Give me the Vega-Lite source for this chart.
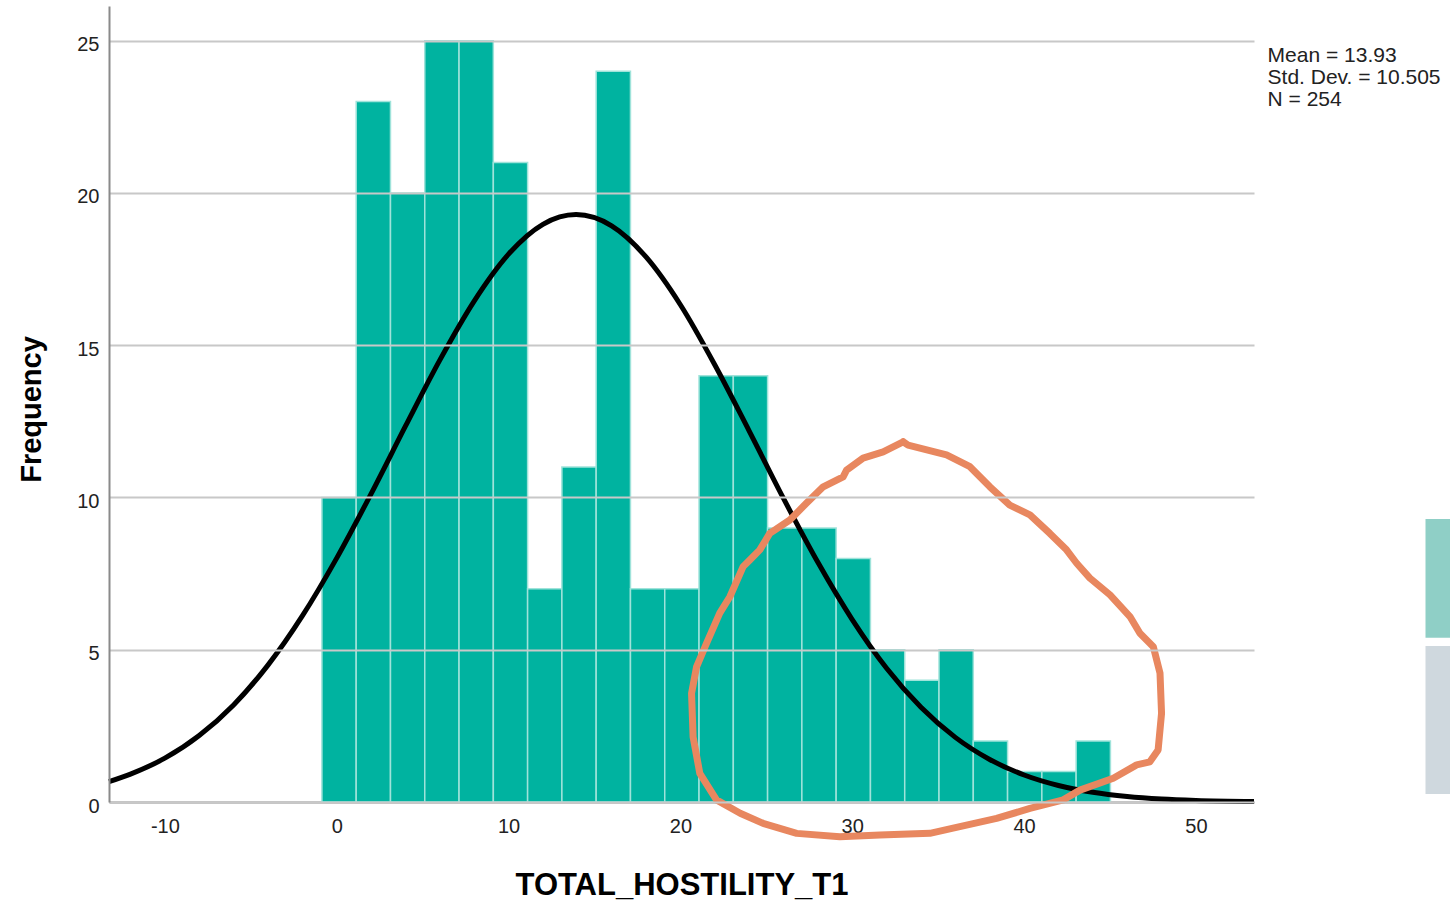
{
  "$schema": "https://vega.github.io/schema/vega-lite/v6.json",
  "autosize": {"type": "none"},
  "padding": {"left": 109, "top": 6, "right": 196, "bottom": 101},
  "width": 1145,
  "height": 796,
  "background": "white",
  "config": {
    "view": {"stroke": null},
    "font": "Liberation Sans"
  },
  "datasets": {
    "bins": [
      {"bin_start": -0.86, "bin_end": 1.135, "count": 10},
      {"bin_start": 1.135, "bin_end": 3.13, "count": 23},
      {"bin_start": 3.13, "bin_end": 5.125, "count": 20},
      {"bin_start": 5.125, "bin_end": 7.12, "count": 25},
      {"bin_start": 7.12, "bin_end": 9.115, "count": 25},
      {"bin_start": 9.115, "bin_end": 11.11, "count": 21},
      {"bin_start": 11.11, "bin_end": 13.105, "count": 7},
      {"bin_start": 13.105, "bin_end": 15.1, "count": 11},
      {"bin_start": 15.1, "bin_end": 17.095, "count": 24},
      {"bin_start": 17.095, "bin_end": 19.09, "count": 7},
      {"bin_start": 19.09, "bin_end": 21.085, "count": 7},
      {"bin_start": 21.085, "bin_end": 23.08, "count": 14},
      {"bin_start": 23.08, "bin_end": 25.075, "count": 14},
      {"bin_start": 25.075, "bin_end": 27.07, "count": 9},
      {"bin_start": 27.07, "bin_end": 29.065, "count": 9},
      {"bin_start": 29.065, "bin_end": 31.06, "count": 8},
      {"bin_start": 31.06, "bin_end": 33.055, "count": 5},
      {"bin_start": 33.055, "bin_end": 35.05, "count": 4},
      {"bin_start": 35.05, "bin_end": 37.045, "count": 5},
      {"bin_start": 37.045, "bin_end": 39.04, "count": 2},
      {"bin_start": 39.04, "bin_end": 41.035, "count": 1},
      {"bin_start": 41.035, "bin_end": 43.03, "count": 1},
      {"bin_start": 43.03, "bin_end": 45.025, "count": 2}
    ],
    "curve": [
      {"value": -13.25, "frequency": 0.67},
      {"value": -12, "frequency": 0.917},
      {"value": -10, "frequency": 1.44},
      {"value": -8, "frequency": 2.184},
      {"value": -6, "frequency": 3.189},
      {"value": -4, "frequency": 4.494},
      {"value": -2, "frequency": 6.109},
      {"value": 0, "frequency": 8.008},
      {"value": 2, "frequency": 10.12},
      {"value": 4, "frequency": 12.34},
      {"value": 6, "frequency": 14.51},
      {"value": 8, "frequency": 16.45},
      {"value": 10, "frequency": 17.99},
      {"value": 12, "frequency": 18.97},
      {"value": 13.93, "frequency": 19.29},
      {"value": 16, "frequency": 18.92},
      {"value": 18, "frequency": 17.9},
      {"value": 20, "frequency": 16.33},
      {"value": 22, "frequency": 14.36},
      {"value": 24, "frequency": 12.19},
      {"value": 26, "frequency": 9.97},
      {"value": 28, "frequency": 7.87},
      {"value": 30, "frequency": 5.99},
      {"value": 32, "frequency": 4.39},
      {"value": 34, "frequency": 3.11},
      {"value": 36, "frequency": 2.122},
      {"value": 38, "frequency": 1.397},
      {"value": 40, "frequency": 0.887},
      {"value": 42, "frequency": 0.543},
      {"value": 44, "frequency": 0.321},
      {"value": 46, "frequency": 0.183},
      {"value": 48, "frequency": 0.1},
      {"value": 50, "frequency": 0.053},
      {"value": 53.38, "frequency": 0.017}
    ],
    "circle": [
      {"i": 1, "x": 32.96, "y": 11.83},
      {"i": 2, "x": 33.25, "y": 11.72},
      {"i": 3, "x": 35.49, "y": 11.4},
      {"i": 4, "x": 36.85, "y": 11.01},
      {"i": 5, "x": 38.01, "y": 10.35},
      {"i": 6, "x": 39.17, "y": 9.75},
      {"i": 7, "x": 40.34, "y": 9.43},
      {"i": 8, "x": 41.5, "y": 8.82},
      {"i": 9, "x": 42.47, "y": 8.28},
      {"i": 10, "x": 43.06, "y": 7.84},
      {"i": 11, "x": 43.83, "y": 7.35},
      {"i": 12, "x": 45.0, "y": 6.8},
      {"i": 13, "x": 46.16, "y": 6.09},
      {"i": 14, "x": 46.74, "y": 5.54},
      {"i": 15, "x": 47.52, "y": 5.1},
      {"i": 16, "x": 47.91, "y": 4.23},
      {"i": 17, "x": 48.0, "y": 2.91},
      {"i": 18, "x": 47.8, "y": 1.71},
      {"i": 19, "x": 47.32, "y": 1.32},
      {"i": 20, "x": 46.55, "y": 1.22},
      {"i": 21, "x": 45.19, "y": 0.78},
      {"i": 22, "x": 43.25, "y": 0.39},
      {"i": 23, "x": 42.28, "y": 0.07},
      {"i": 24, "x": 40.34, "y": -0.21},
      {"i": 25, "x": 38.4, "y": -0.54},
      {"i": 26, "x": 35.87, "y": -0.86},
      {"i": 27, "x": 34.52, "y": -1.03},
      {"i": 28, "x": 31.61, "y": -1.08},
      {"i": 29, "x": 29.28, "y": -1.14},
      {"i": 30, "x": 26.77, "y": -1.03},
      {"i": 31, "x": 24.81, "y": -0.7},
      {"i": 32, "x": 23.48, "y": -0.37},
      {"i": 33, "x": 22.1, "y": 0.07},
      {"i": 34, "x": 21.13, "y": 0.94},
      {"i": 35, "x": 20.74, "y": 2.14},
      {"i": 36, "x": 20.65, "y": 3.57},
      {"i": 37, "x": 20.94, "y": 4.44},
      {"i": 38, "x": 21.52, "y": 5.21},
      {"i": 39, "x": 22.29, "y": 6.2},
      {"i": 40, "x": 22.88, "y": 6.74},
      {"i": 41, "x": 23.65, "y": 7.73},
      {"i": 42, "x": 24.04, "y": 7.95},
      {"i": 43, "x": 24.62, "y": 8.28},
      {"i": 44, "x": 25.2, "y": 8.82},
      {"i": 45, "x": 26.37, "y": 9.26},
      {"i": 46, "x": 27.33, "y": 9.81},
      {"i": 47, "x": 28.31, "y": 10.35},
      {"i": 48, "x": 29.47, "y": 10.68},
      {"i": 49, "x": 29.67, "y": 10.9},
      {"i": 50, "x": 30.63, "y": 11.29},
      {"i": 51, "x": 31.8, "y": 11.5},
      {"i": 52, "x": 32.96, "y": 11.83}
    ],
    "stats": [
      {"label": "Mean = 13.93", "x": 54.17, "y": 24.29},
      {"label": "Std. Dev. = 10.505", "x": 54.17, "y": 23.58},
      {"label": "N = 254", "x": 54.17, "y": 22.86}
    ],
    "side": [
      {"x1": 63.36, "x2": 65.5, "y1": 9.29, "y2": 5.39, "kind": "teal"},
      {"x1": 63.36, "x2": 65.5, "y1": 5.12, "y2": 0.26, "kind": "grey"}
    ]
  },
  "layer": [
    {
      "data": {"name": "bins"},
      "mark": {"type": "rect", "color": "#00b3a0", "stroke": "#9fe3da", "strokeWidth": 1.5},
      "encoding": {
        "x": {
          "field": "bin_start", "type": "quantitative",
          "scale": {"domain": [-13.25, 53.38], "nice": false, "zero": false},
          "axis": {
            "title": "TOTAL_HOSTILITY_T1",
            "values": [-10, 0, 10, 20, 30, 40, 50],
            "labelExpr": "datum.value + ''",
            "grid": false, "ticks": false, "tickSize": 0,
            "domainColor": "#8a8a8a", "domainWidth": 2,
            "labelFontSize": 20, "labelColor": "#222222", "labelPadding": 14,
            "labelFlush": false,
            "titleFontSize": 31, "titleFontWeight": "bold", "titleColor": "#000000",
            "titlePadding": 34
          }
        },
        "x2": {"field": "bin_end"},
        "y": {
          "field": "count", "type": "quantitative",
          "scale": {"domain": [0, 26.14], "nice": false},
          "axis": {
            "title": "Frequency",
            "values": [0, 5, 10, 15, 20, 25],
            "grid": true, "gridColor": "#c8c8c8", "gridWidth": 2,
            "ticks": false, "tickSize": 0,
            "domainColor": "#8a8a8a", "domainWidth": 2,
            "labelFontSize": 20, "labelColor": "#222222", "labelPadding": 10,
            "labelOffset": 4,
            "titleFontSize": 29, "titleFontWeight": "bold", "titleColor": "#000000",
            "titlePadding": 30,
            "titleY": 403,
            "zindex": 1
          }
        },
        "y2": {"datum": 0}
      }
    },
    {
      "data": {"name": "curve"},
      "mark": {"type": "line", "color": "#000000", "strokeWidth": 5, "interpolate": "monotone"},
      "encoding": {
        "x": {"field": "value", "type": "quantitative"},
        "y": {"field": "frequency", "type": "quantitative"}
      }
    },
    {
      "data": {"name": "circle"},
      "mark": {"type": "line", "color": "#e8875f", "strokeWidth": 7, "strokeJoin": "round", "strokeCap": "round", "clip": false},
      "encoding": {
        "x": {"field": "x", "type": "quantitative"},
        "y": {"field": "y", "type": "quantitative"},
        "order": {"field": "i", "type": "quantitative"}
      }
    },
    {
      "data": {"name": "stats"},
      "mark": {"type": "text", "align": "left", "baseline": "alphabetic", "fontSize": 21, "color": "#222222", "clip": false},
      "encoding": {
        "x": {"field": "x", "type": "quantitative"},
        "y": {"field": "y", "type": "quantitative"},
        "text": {"field": "label"}
      }
    },
    {
      "data": {"name": "side"},
      "mark": {"type": "rect", "clip": false},
      "encoding": {
        "x": {"field": "x1", "type": "quantitative"},
        "x2": {"field": "x2"},
        "y": {"field": "y1", "type": "quantitative"},
        "y2": {"field": "y2"},
        "color": {
          "field": "kind", "type": "nominal",
          "scale": {"domain": ["teal", "grey"], "range": ["#8fcfc6", "#cfd8de"]},
          "legend": null
        }
      }
    }
  ]
}
